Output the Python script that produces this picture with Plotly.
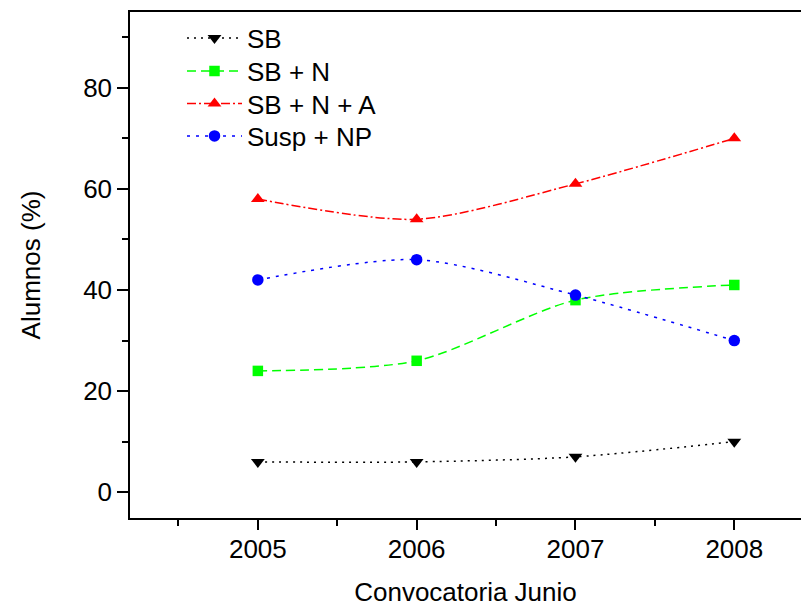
import plotly.graph_objects as go

years = [2005, 2006, 2007, 2008]
sb = [6, 6, 7, 10]
sb_n = [24, 26, 38, 41]
sb_n_a = [58, 54, 61, 70]
susp_np = [42, 46, 39, 30]

series = [
    ("SB", sb, "black", "2px,5px", "triangle-down", 12),
    ("SB + N", sb_n, "#00ff00", "9px,5px", "square", 10.5),
    ("SB + N + A", sb_n_a, "red", "9px,3px,2px,3px", "triangle-up", 12),
    ("Susp + NP", susp_np, "blue", "3px,6px", "circle", 11.5),
]
legend_ids = ["legend", "legend2", "legend3", "legend4"]
legend_rows_px = [38, 71, 103.5, 136]

FONT = "Arial, Liberation Sans, sans-serif"
fig = go.Figure()
for (name, vals, color, dash, sym, size), lid in zip(series, legend_ids):
    fig.add_trace(go.Scatter(
        x=years, y=vals, name=name, mode="lines+markers",
        line=dict(color=color, dash=dash, width=1.5, shape="spline", smoothing=0.8),
        marker=dict(symbol=sym, size=size, color=color),
        legend=lid,
    ))

top, plot_h = 12, 506
legend_kw = {}
for lid, row in zip(legend_ids, legend_rows_px):
    legend_kw[lid] = dict(x=0.0775, y=1 - (row - top) / plot_h, xanchor="left", yanchor="middle",
                          bgcolor="rgba(0,0,0,0)", font=dict(size=26), itemwidth=55)

fig.update_layout(
    width=801, height=607,
    margin=dict(l=130, r=0, t=12, b=89),
    plot_bgcolor="white", paper_bgcolor="white",
    font=dict(family=FONT, size=26, color="black"),
    showlegend=True,
    **legend_kw,
)
fig.update_xaxes(
    range=[2004.195, 2008.42],
    tickvals=years, ticktext=[str(y) for y in years],
    ticks="outside", ticklen=10, tickwidth=1.5, tickcolor="black",
    ticklabelstandoff=-3,
    minor=dict(tickvals=[2004.5, 2005.5, 2006.5, 2007.5], ticks="outside", ticklen=6, tickwidth=1.5, tickcolor="black"),
    showline=True, linecolor="black", linewidth=1.5, mirror=True,
    showgrid=False, zeroline=False, automargin=False,
    title=dict(text="Convocatoria Junio", font=dict(size=26), standoff=29),
)
fig.update_yaxes(
    range=[-5.1, 95],
    tickvals=[0, 20, 40, 60, 80],
    ticks="outside", ticklen=11, tickwidth=1.5, tickcolor="black",
    minor=dict(tickvals=[10, 30, 50, 70, 90], ticks="outside", ticklen=6, tickwidth=1.5, tickcolor="black"),
    showline=True, linecolor="black", linewidth=1.5, mirror=False,
    showgrid=False, zeroline=False, automargin=False,
    title=dict(text="Alumnos (%)", font=dict(size=26), standoff=35),
)
fig.write_html("out.html")
